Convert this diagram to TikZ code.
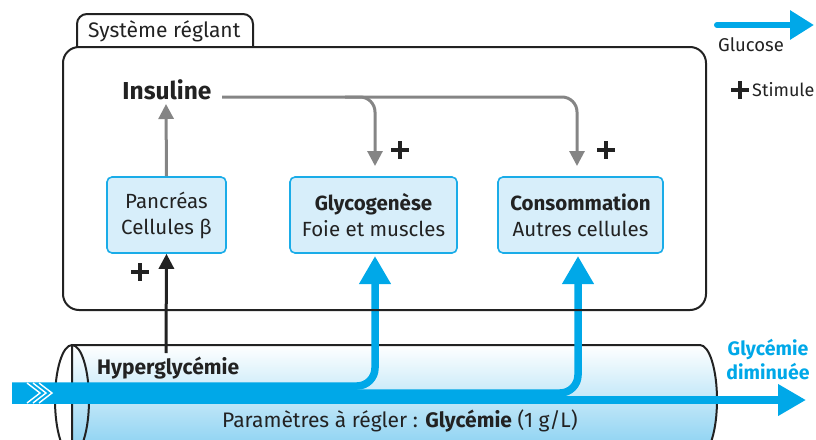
\documentclass[tikz,border=0pt]{standalone}
\usepackage{fontspec}
\setmainfont{Fira Sans}
\usetikzlibrary{arrows.meta,calc}
\definecolor{cyanb}{HTML}{00A8E8}
\definecolor{boxfill}{HTML}{D7EEFA}
\definecolor{boxline}{HTML}{1AACE8}
\definecolor{grayl}{HTML}{858585}
\definecolor{txt}{HTML}{222222}
\definecolor{cylb}{HTML}{84CFF1}
\tikzset{
  procbox/.style={draw=boxline,line width=1.6pt,fill=boxfill,rounded corners=5pt,minimum height=76pt,align=center,text=txt,font=\fontsize{20.5}{26}\selectfont,inner sep=0pt},
  glu/.style={cyanb,line width=7.5pt,rounded corners=18pt,-{Triangle[length=28pt,width=30pt]}},
  gra/.style={grayl,line width=3pt,rounded corners=15pt,-{Triangle[length=15pt,width=15pt]}},
  lbl/.style={inner sep=0pt,text=txt,font=\fontsize{21}{24}\selectfont},
  plusmark/.style={line width=4.2pt,txt}
}
\newcommand{\plusat}[1]{\draw[plusmark] ($(#1)+(-9,0)$) -- ($(#1)+(9,0)$) ($(#1)+(0,-9)$) -- ($(#1)+(0,9)$);}
\begin{document}
\begin{tikzpicture}[x=1pt,y=-1pt]
\useasboundingbox (0,0) rectangle (816,439);
% cylinder
\shade[top color=white,bottom color=cylb,draw=txt,line width=2pt]
  (72,345) -- (700,345) arc[start angle=-90,end angle=90,x radius=17,y radius=55] -- (72,455) -- cycle;
\draw[txt,line width=2pt] (72,400) ellipse[x radius=17,y radius=55];
% glucose lines
\coordinate (g0) at (12,400);
\coordinate (g1) at (12,393);
\coordinate (g2) at (12,386);
\node[procbox,minimum width=119pt] (panc) at (166.5,215) {Pancréas\\Cellules β};
\node[procbox,minimum width=167pt] (glyco) at (373.5,215) {\textbf{Glycogenèse}\\Foie et muscles};
\node[procbox,minimum width=165pt] (conso) at (580.5,215) {\textbf{Consommation}\\Autres cellules};
\draw[glu] (g2) -- (375,386) -- (375,256);
\draw[glu] (g1) -- (578,393) -- (578,256);
\draw[glu] (g0) -- (806,400);
\draw[white,line width=1.4pt] (27,383)--(40,393)--(27,403) (33,383)--(46,393)--(33,403) (39,383)--(52,393)--(39,403);
% main box
\draw[txt,line width=2pt,rounded corners=10pt] (77,47) -- (77,14) -- (253,14) -- (253,47);
\node[lbl,anchor=west] (sys) at (88,31) {Système réglant};
\draw[txt,line width=2pt,rounded corners=16pt] (63,47) rectangle (706,310);
% insuline
\node[lbl,font=\fontsize{24.5}{28}\selectfont\bfseries] (ins) at (167,90) {Insuline};
\coordinate (ia) at (222,97);
\draw[gra] (ia) -- (577,97) -- (577,166);
\draw[gra] (345,97) -- (375,97) -- (375,166);
\draw[gra] (panc.north) -- (166,104);
\draw[txt,line width=3pt,-{Triangle[length=15pt,width=15pt]}] (166,353) -- (panc.south);
\plusat{140,272}
\plusat{400,150}
\plusat{606,150}
% texts in cylinder
\node[lbl,anchor=west,font=\fontsize{21}{24}\selectfont\bfseries] (hyp) at (97,368) {Hyperglycémie};
\node[lbl] (par) at (400,421) {Paramètres à régler : \textbf{Glycémie} (1 g/L)};
\node[lbl,text=cyanb,align=center,font=\fontsize{19.5}{24}\selectfont\bfseries] (dim) at (768,360) {Glycémie\\diminuée};
% legend
\coordinate (l0) at (717,25);
\coordinate (l1) at (814,25);
\draw[cyanb,line width=6pt,line cap=round,-{Triangle[length=24pt,width=28pt]}] (l0) -- (l1);
\node[lbl,font=\fontsize{18.5}{20}\selectfont] (gl) at (751,45) {Glucose};
\plusat{740,90}
\node[lbl,anchor=west,font=\fontsize{18}{20}\selectfont] (st) at (752,90) {Stimule};
\end{tikzpicture}
\end{document}
